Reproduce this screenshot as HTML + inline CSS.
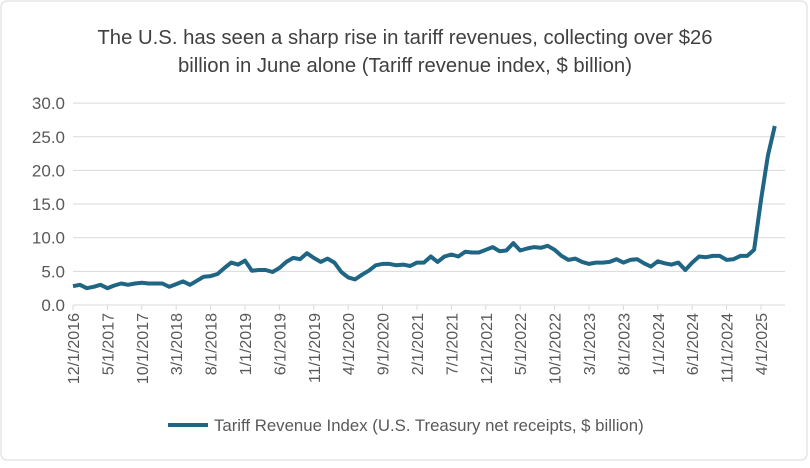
<!DOCTYPE html>
<html><head><meta charset="utf-8"><style>
body{margin:0;background:#fff;font-family:"Liberation Sans",sans-serif}
svg text{font-family:"Liberation Sans",sans-serif;fill:#595959}
</style></head><body>
<svg width="810" height="463">
<rect x="1" y="1" width="806" height="459" rx="6" fill="#fff" stroke="#d9d9d9"/>
<text x="405" y="44" text-anchor="middle" font-size="20.3" style="fill:#404040">The U.S. has seen a sharp rise in tariff revenues, collecting over $26</text>
<text x="405" y="72" text-anchor="middle" font-size="20.3" style="fill:#404040">billion in June alone (Tariff revenue index, $ billion)</text>
<g id="grid"></g><g id="ylab"></g><g id="xax"></g>
<path id="line" fill="none" stroke="#1f6584" stroke-width="4" stroke-linejoin="round"/>
<line x1="168" y1="425" x2="208" y2="425" stroke="#1f6584" stroke-width="4"/>
<text x="214" y="431" font-size="16.8">Tariff Revenue Index (U.S. Treasury net receipts, $ billion)</text>
</svg>
<script>
const values=[2.8,3.0,2.5,2.7,3.0,2.5,2.9,3.2,3.0,3.2,3.3,3.2,3.2,3.2,2.7,3.1,3.5,3.0,3.6,4.2,4.3,4.6,5.5,6.3,6.0,6.6,5.1,5.2,5.2,4.9,5.5,6.4,7.0,6.8,7.7,7.0,6.4,6.9,6.3,4.9,4.1,3.8,4.5,5.1,5.9,6.1,6.1,5.9,6.0,5.8,6.3,6.3,7.2,6.4,7.2,7.5,7.2,7.9,7.8,7.8,8.2,8.6,8.0,8.1,9.2,8.1,8.4,8.6,8.5,8.8,8.2,7.3,6.7,6.9,6.4,6.1,6.3,6.3,6.4,6.8,6.3,6.7,6.8,6.2,5.7,6.5,6.2,6.0,6.3,5.2,6.3,7.2,7.1,7.3,7.3,6.7,6.8,7.3,7.3,8.2,15.6,22.2,26.6];
const yTicks=[0,5,10,15,20,25,30];
const startYear=2016,startMonth=12;
const X0=73,DX=6.88,Y0=305,PY=6.73;
const xs=i=>X0+DX*i, ys=v=>Y0-v*PY;
const NS="http://www.w3.org/2000/svg";
function mk(t,a,p){const e=document.createElementNS(NS,t);for(const k in a)e.setAttribute(k,a[k]);p.appendChild(e);return e;}
const grid=document.getElementById('grid'),ylab=document.getElementById('ylab'),xax=document.getElementById('xax');
yTicks.forEach(v=>{
  const l=mk('line',{x1:73,x2:785,y1:ys(v),y2:ys(v),stroke:'#d9d9d9','stroke-width':1},grid);
  
  
  const t=mk('text',{x:65,y:ys(v)+6,'text-anchor':'end','font-size':17},ylab);
  t.textContent=v.toFixed(1);
  
  
});
values.forEach((v,i)=>{
  if(i%5!==0)return;
  const tk=mk('line',{x1:xs(i),x2:xs(i),y1:305,y2:310,stroke:'#d9d9d9'},xax);
  
  
  const m0=startMonth-1+i, y=startYear+Math.floor(m0/12), m=m0%12+1;
  const t=mk('text',{x:0,y:0,'text-anchor':'end','font-size':16,transform:`translate(${xs(i)+6},313) rotate(-90)`},xax);
  t.textContent=`${m}/1/${y}`;
  
  
});
document.getElementById('line').setAttribute('d',values.map((v,i)=>(i?'L':'M')+xs(i).toFixed(1)+' '+ys(v).toFixed(1)).join(' '));
</script>
</body></html>
